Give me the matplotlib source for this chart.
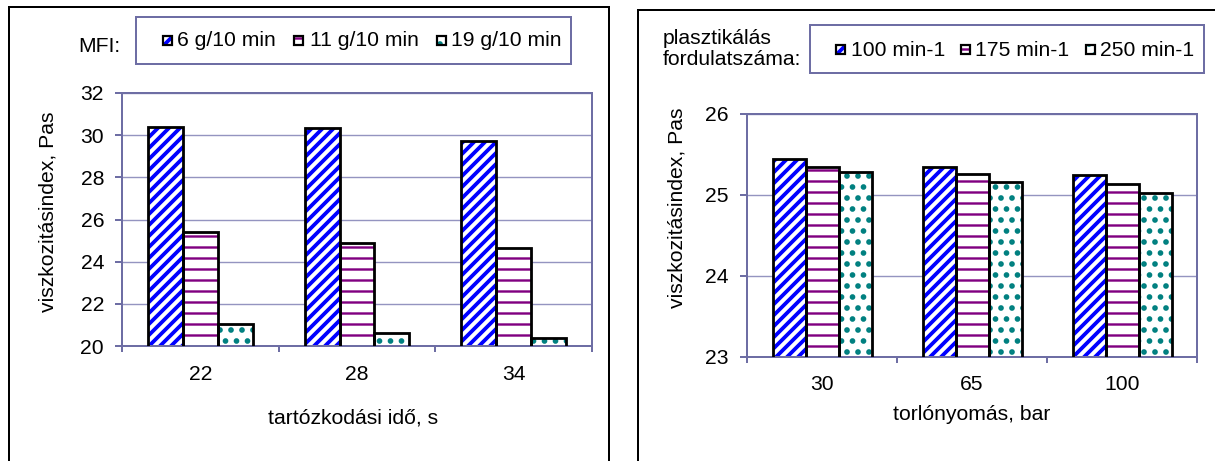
import matplotlib
matplotlib.use("Agg")
import matplotlib.pyplot as plt
from matplotlib.patches import Rectangle
import numpy as np

# ---- data ---------------------------------------------------------------
time_labels = ["22", "28", "34"]
mfi_labels = ["6 g/10 min", "11 g/10 min", "19 g/10 min"]
visc_mfi6 = [30.4, 30.35, 29.7]
visc_mfi11 = [25.4, 24.9, 24.65]
visc_mfi19 = [21.05, 20.6, 20.4]

pressure_labels = ["30", "65", "100"]
rpm_labels = ["100 min-1", "175 min-1", "250 min-1"]
visc_rpm100 = [25.44, 25.34, 25.25]
visc_rpm175 = [25.35, 25.26, 25.14]
visc_rpm250 = [25.29, 25.16, 25.03]

# ---- figure geometry (pixels) -------------------------------------------
W, H, DPI = 1215, 461, 66
plt.rcParams["font.family"] = ["Liberation Sans", "DejaVu Sans"]
FS = 23
AXIS_C = "#6E6EA4"
GRID_C = "#9494C0"

STYLES = [
    dict(hatch="//", color="#0000FF", hlw=3.8),
    dict(hatch="-", color="#800080", hlw=2.4),
    dict(hatch=".", color="#008080", hlw=3.4),
]


def pt(p):
    """pixels -> points"""
    return p * 72.0 / DPI


def fx(x):
    return x / W


def fy(y):
    return 1 - y / H


fig = plt.figure(figsize=(W / DPI, H / DPI), dpi=DPI)


def frame(x0, y0, x1, y1, color, lw):
    fig.add_artist(Rectangle((fx(x0), fy(y1)), (x1 - x0) / W, (y1 - y0) / H,
                             transform=fig.transFigure, fill=False,
                             edgecolor=color, linewidth=pt(lw)))


def set_hlw(patches, lw):
    for p in patches:
        if hasattr(p, "set_hatch_linewidth"):
            p.set_hatch_linewidth(pt(lw))


def hatched_bars(ax, x, heights, width, st):
    with plt.rc_context({"hatch.linewidth": pt(st["hlw"])}):
        bars = ax.bar(x, heights, width, color="white", edgecolor=st["color"],
                      linewidth=0, hatch=st["hatch"], zorder=2)
    set_hlw(bars, st["hlw"])
    ax.bar(x, heights, width, facecolor="none", edgecolor="black",
           linewidth=pt(2.8), zorder=3)


def grouped_chart(box, cats, series, ylim, yticks, bar_w):
    x0, y0, x1, y1 = box
    ax = fig.add_axes([fx(x0), fy(y1), (x1 - x0) / W, (y1 - y0) / H])
    x = np.arange(len(cats))
    for k, (vals, st) in enumerate(zip(series, STYLES)):
        hatched_bars(ax, x + (k - 1) * bar_w, vals, bar_w, st)
    ax.set_ylim(*ylim)
    ax.set_yticks(yticks)
    ax.set_xlim(-0.5, len(cats) - 0.5)
    ax.set_xticks(x, cats)
    ax.set_xticks(np.arange(len(cats) + 1) - 0.5, minor=True)
    ax.tick_params(axis="x", which="major", length=0, pad=pt(18.5),
                   labelsize=FS)
    ax.tick_params(axis="x", which="minor", length=pt(6), width=pt(2),
                   color=AXIS_C, direction="out")
    ax.tick_params(axis="y", length=pt(7), width=pt(2), color=AXIS_C,
                   pad=pt(11), labelsize=FS)
    for s in ax.spines.values():
        s.set_color(AXIS_C)
        s.set_linewidth(pt(2))
    ax.yaxis.grid(True, color=GRID_C, linewidth=pt(1.4))
    ax.set_axisbelow(True)
    return ax


def legend_box(box, patch_x, text_x, yc, labels):
    x0, y0, x1, y1 = box
    frame(x0, y0, x1, y1, AXIS_C, 2)
    s = 9
    for st, xp, xt, lab in zip(STYLES, patch_x, text_x, labels):
        with plt.rc_context({"hatch.linewidth": pt(st["hlw"])}):
            r = Rectangle((fx(xp), fy(yc + s / 2)), s / W, s / H,
                          transform=fig.transFigure, facecolor="white",
                          edgecolor=st["color"], linewidth=0, hatch=st["hatch"])
        set_hlw([r], st["hlw"])
        fig.add_artist(r)
        fig.add_artist(Rectangle((fx(xp), fy(yc + s / 2)), s / W, s / H,
                                 transform=fig.transFigure, fill=False,
                                 edgecolor="black", linewidth=pt(2.2)))
        fig.text(fx(xt), fy(yc + 1), lab, ha="left", va="center", fontsize=FS)


# ---- panel outlines -----------------------------------------------------
frame(9, 7, 609, 480, "black", 2)
frame(638, 10, 1230, 480, "black", 2)

# ---- left chart: residence time ----------------------------------------
ax1 = grouped_chart((122, 93, 592, 346), time_labels,
                    [visc_mfi6, visc_mfi11, visc_mfi19],
                    (20, 32), range(20, 33, 2), 0.223)
ax1.set_xlabel("tartózkodási idő, s", fontsize=FS, va="center")
ax1.xaxis.set_label_coords(fx(353), fy(418), transform=fig.transFigure)
ax1.set_ylabel("viszkozitásindex, Pas", fontsize=FS, va="center", ha="center")
ax1.yaxis.set_label_coords(fx(48), fy(212), transform=fig.transFigure)

legend_box((136, 17, 571, 64), [163, 294, 437], [177, 310, 451], 40,
           mfi_labels)
fig.text(fx(78), fy(47), "MFI:", ha="left", va="center", fontsize=FS)

# ---- right chart: back pressure ----------------------------------------
ax2 = grouped_chart((747, 114, 1197, 357), pressure_labels,
                    [visc_rpm100, visc_rpm175, visc_rpm250],
                    (23, 26), range(23, 27), 0.22)
ax2.set_xlabel("torlónyomás, bar", fontsize=FS, va="center")
ax2.xaxis.set_label_coords(fx(972), fy(414), transform=fig.transFigure)
ax2.set_ylabel("viszkozitásindex, Pas", fontsize=FS, va="center", ha="center")
ax2.yaxis.set_label_coords(fx(677), fy(208), transform=fig.transFigure)

legend_box((810, 25, 1204, 73), [836, 961, 1086], [851, 975, 1100], 49,
           rpm_labels)
fig.text(fx(663), fy(49), "plasztikálás\nfordulatszáma:", ha="left",
         va="center", fontsize=FS, linespacing=1.1)

fig.savefig("out.png", dpi=DPI)
